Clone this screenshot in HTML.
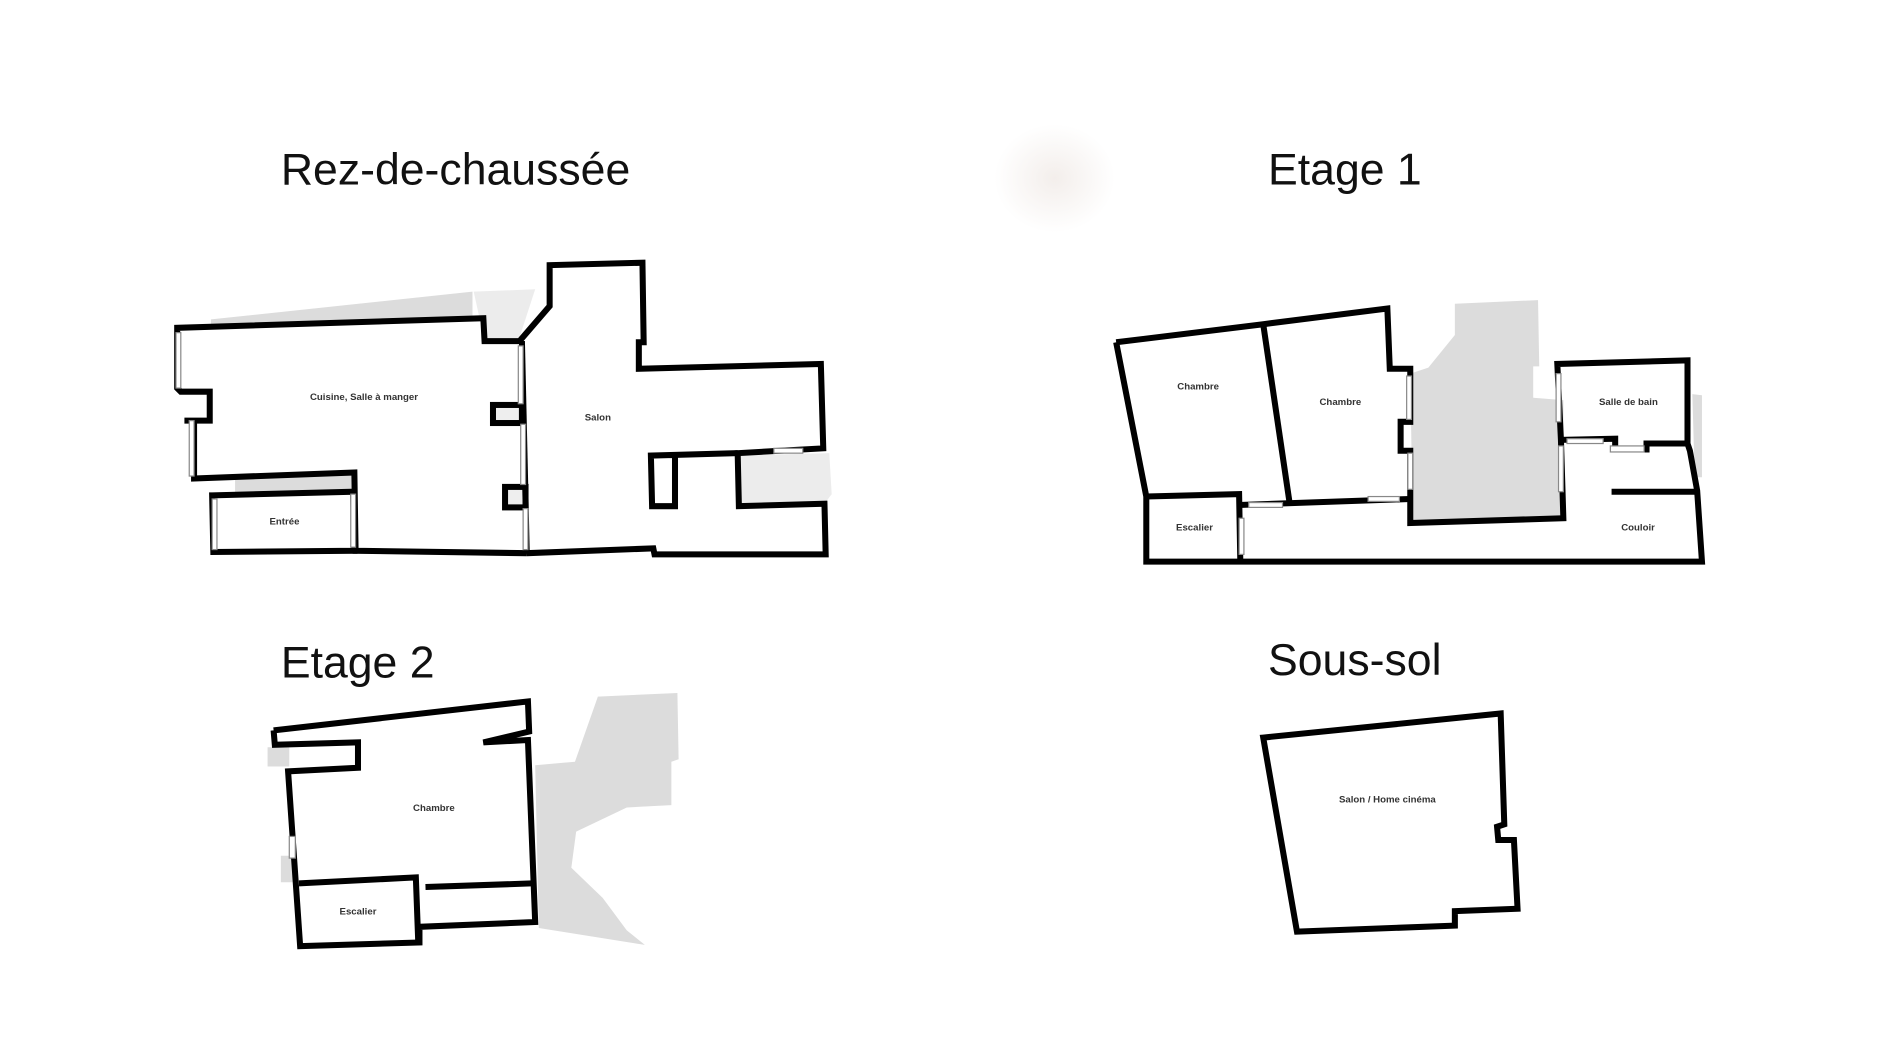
<!DOCTYPE html>
<html><head><meta charset="utf-8"><style>
html,body{margin:0;padding:0;background:#fff;}
svg{display:block;}
text{font-family:"Liberation Sans",sans-serif;}
.t{font-size:37px;fill:#111;}
.l{font-size:8px;font-weight:bold;fill:#333;text-anchor:middle;}
.w{fill:none;stroke:#000;stroke-width:5;stroke-linejoin:miter;}
.win{fill:#fff;stroke:#888;stroke-width:1;}
.g{fill:#dcdcdc;}
</style></head><body>
<svg width="1890" height="1063" viewBox="0 0 1568 882" preserveAspectRatio="none">
<defs><radialGradient id="rg"><stop offset="0" stop-color="#f3eeeb"/><stop offset="1" stop-color="#fff"/></radialGradient></defs>
<rect width="1568" height="882" fill="#fff"/>
<ellipse cx="875" cy="148" rx="50" ry="45" fill="url(#rg)"/>
<text class="t" x="233" y="153">Rez-de-chaussée</text>
<text class="t" x="1052" y="153">Etage 1</text>
<text class="t" x="233" y="562">Etage 2</text>
<text class="t" x="1052" y="560">Sous-sol</text>

<!-- RDC shadows -->
<polygon class="g" points="175,265 392,242 392,264 175,270"/>
<polygon fill="#ececec" points="393,242 444,240 430,283 402,283"/>
<polygon fill="#ececec" points="612,378 688,376 690,410 684,418 613,420"/>
<polygon class="g" points="195,397 293,394 293,409 195,410"/>
<rect x="409" y="336" width="24" height="15" fill="#eee"/>
<rect x="419" y="404" width="17" height="17" fill="#eee"/>
<!-- RDC walls -->
<polyline class="w" points="437,459 295,457 294,392 161,397 161,349 153,349 174,349 174,325 150,325 147,322 147,272 401,264 402,283 431,283 456,254 456,220 533,218 534,284 530,284 530,306 681,302 683,372 612,376 613,420 684,418 685,460 543,460 542,455 437,459"/>
<line class="w" x1="433" y1="283" x2="437" y2="459"/>
<polygon class="w" points="176,411 293,408 294,457 177,458"/>
<rect class="w" x="409" y="336" width="24" height="15"/>
<rect class="w" x="419" y="404" width="17" height="17"/>
<polyline class="w" points="612,376 540,378 541,420 560,420 560,378"/>
<rect class="win" x="146" y="276" width="4" height="46"/>
<rect class="win" x="157" y="349" width="4" height="46"/>
<rect class="win" x="430" y="287" width="4" height="48"/>
<rect class="win" x="432" y="352" width="4" height="50"/>
<rect class="win" x="434" y="422" width="4" height="34"/>
<rect class="win" x="176" y="414" width="4" height="42"/>
<rect class="win" x="291" y="410" width="4" height="44"/>
<rect class="win" x="642" y="372" width="24" height="4"/>
<text class="l" x="302" y="332">Cuisine, Salle à manger</text>
<text class="l" x="496" y="349">Salon</text>
<text class="l" x="236" y="435">Entrée</text>

<!-- Etage 1 -->
<polygon class="g" points="1207,252 1276,249 1277,304 1272,304 1272,330 1297,332 1297,430 1172,434 1170,310 1185,305 1207,278"/>
<polygon class="g" points="1404,327 1412,328 1412,396 1406,396"/>
<polyline class="w" points="926,284 1048,269 1151,256 1153,306 1170,306 1170,350 1162,350 1162,374 1170,374 1170,415 1170,434 1297,430 1295,365 1292,302 1400,299 1400,368 1402,374 1408,407 1412,466 951,466 951,412 926,284"/>
<line class="w" x1="1048" y1="269" x2="1070" y2="418"/>
<polyline class="w" points="951,412 1028,410 1029,466"/>
<line class="w" x1="1028" y1="419" x2="1170" y2="414"/>
<polyline class="w" points="1295,365 1340,364 1340,373 1366,373 1366,368 1400,368"/>
<line class="w" x1="1337" y1="408" x2="1408" y2="408"/>
<rect class="win" x="1167" y="312" width="4" height="36"/>
<rect class="win" x="1168" y="376" width="4" height="30"/>
<rect class="win" x="1291" y="310" width="4" height="40"/>
<rect class="win" x="1293" y="370" width="4" height="38"/>
<rect class="win" x="1036" y="417" width="28" height="4"/>
<rect class="win" x="1135" y="412" width="26" height="4"/>
<rect class="win" x="1300" y="364" width="30" height="4"/>
<rect class="win" x="1336" y="370" width="28" height="5"/>
<rect class="win" x="1028" y="430" width="4" height="30"/>
<text class="l" x="994" y="323">Chambre</text>
<text class="l" x="1112" y="336">Chambre</text>
<text class="l" x="1351" y="336">Salle de bain</text>
<text class="l" x="991" y="440">Escalier</text>
<text class="l" x="1359" y="440">Couloir</text>

<!-- Etage 2 -->
<polygon class="g" points="496,578 562,575 563,630 557,632 557,668 520,670 478,690 474,720 500,745 520,772 535,784 447,770 444,635 477,632"/>
<polygon class="g" points="222,620 240,620 240,636 222,636"/>
<polygon class="g" points="233,710 243,710 243,732 233,732"/>
<polyline class="w" points="227,606 438,582 439,607 401,616 438,614 444,765 348,769 348,782 249,785 239,640 297,637 297,616 228,618 227,606"/>
<polyline class="w" points="248,733 345,728 347,782"/>
<line class="w" x1="353" y1="736" x2="441" y2="733"/>
<rect class="win" x="240" y="694" width="5" height="18"/>
<text class="l" x="360" y="673">Chambre</text>
<text class="l" x="297" y="759">Escalier</text>

<!-- Sous-sol -->
<polygon class="w" points="1048,612 1245,592 1248,684 1242,686 1243,697 1256,697 1259,754 1207,756 1207,768 1076,773"/>
<text class="l" x="1151" y="666">Salon / Home cinéma</text>
</svg>
</body></html>
